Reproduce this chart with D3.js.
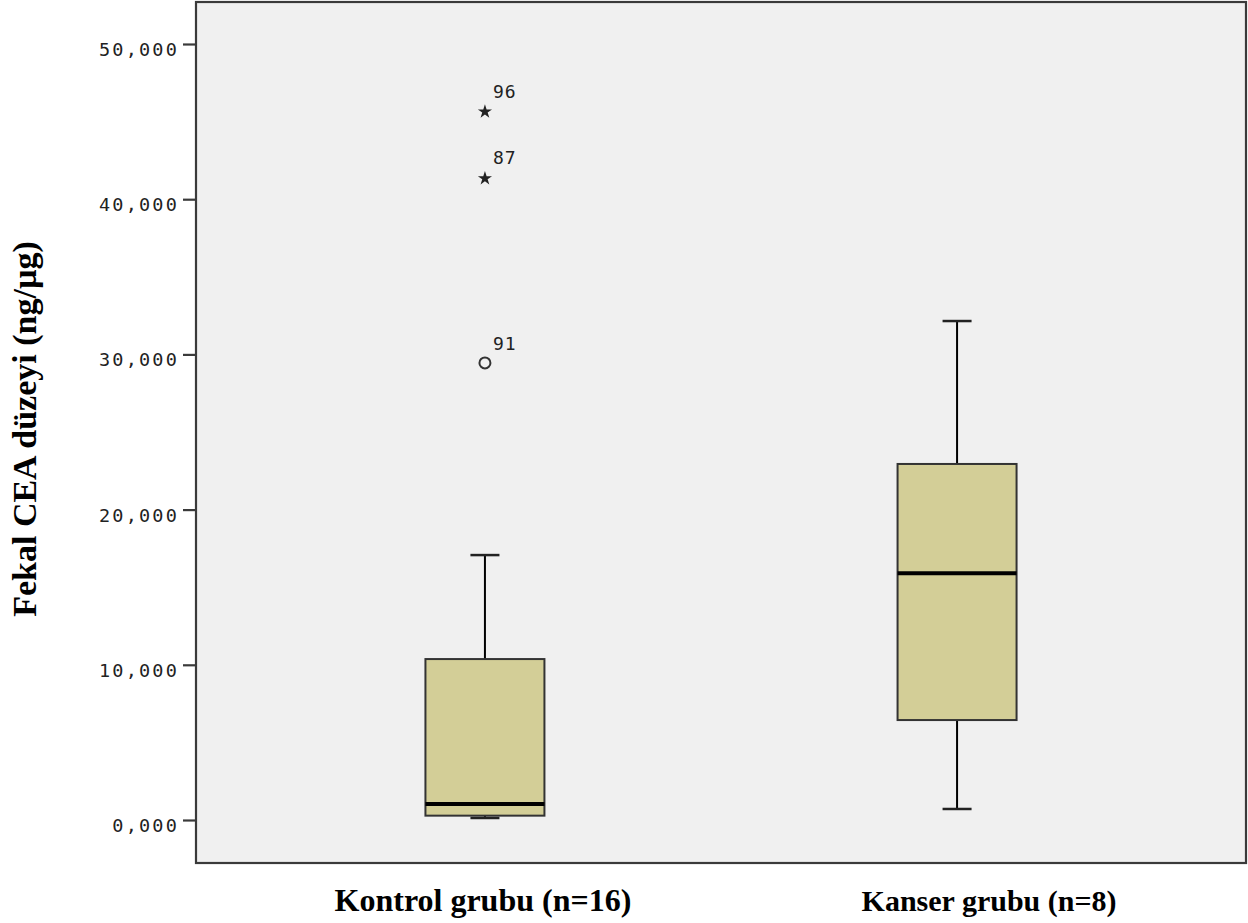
<!DOCTYPE html>
<html>
<head>
<meta charset="utf-8">
<script src="https://cdn.jsdelivr.net/npm/d3@7"></script>
<style>
  html, body { margin: 0; padding: 0; background: #ffffff; }
  svg { display: block; }
</style>
</head>
<body>
<svg id="chart" width="1248" height="923"></svg>
<script>
// ---- data ----
const categories = ["Kontrol grubu (n=16)", "Kanser grubu (n=8)"];
const whiskerLow = [0.13, 0.71];
const q1Values = [0.28, 6.44];
const medians = [1.03, 15.9];
const q3Values = [10.37, 22.94];
const whiskerHigh = [17.07, 32.15];

const outlierCategory = ["Kontrol grubu (n=16)", "Kontrol grubu (n=16)", "Kontrol grubu (n=16)"];
const outlierValues = [45.7, 41.4, 29.45];
const outlierLabels = ["96", "87", "91"];
const outlierKinds = ["extreme", "extreme", "outlier"];

const yTicks = [0, 10, 20, 30, 40, 50];
const yTitle = "Fekal CEA düzeyi  (ng/µg)";

// ---- layout ----
const svg = d3.select("#chart");
const frame = { left: 196, right: 1246, top: 2, bottom: 863 };

const y = d3.scaleLinear().domain([0, 50]).range([820, 44]);
const x = d3.scalePoint().domain(categories).range([frame.left, frame.right]).padding(0.612);
const boxW = 119, capW = 29;

const locale = d3.formatLocale({ decimal: ",", thousands: ".", grouping: [3], currency: ["", ""] });
const fmt = locale.format(".3f");

// plot background + frame
svg.append("rect")
  .attr("x", frame.left).attr("y", frame.top)
  .attr("width", frame.right - frame.left).attr("height", frame.bottom - frame.top)
  .attr("fill", "#f0f0f0").attr("stroke", "#3a3a3a").attr("stroke-width", 2.2);

// y axis
const yAxis = d3.axisLeft(y).tickValues(yTicks).tickSize(13).tickPadding(4).tickFormat(fmt);
const gy = svg.append("g").attr("transform", `translate(${frame.left},0)`).call(yAxis);
gy.select(".domain").remove();
gy.selectAll(".tick line").attr("stroke", "#3a3a3a").attr("stroke-width", 2.2);
gy.selectAll(".tick text")
  .attr("font-family", "DejaVu Sans Mono, monospace")
  .attr("font-size", 18.5)
  .attr("letter-spacing", 2.2)
  .attr("fill", "#222")
  .attr("dy", "0.62em");

// boxes
const data = categories.map((c, i) => ({
  cat: c, lo: whiskerLow[i], q1: q1Values[i], med: medians[i], q3: q3Values[i], hi: whiskerHigh[i]
}));

const g = svg.append("g");
data.forEach(d => {
  const cx = x(d.cat);
  // upper whisker
  g.append("line").attr("x1", cx).attr("x2", cx).attr("y1", y(d.q3)).attr("y2", y(d.hi))
    .attr("stroke", "#000").attr("stroke-width", 2);
  g.append("line").attr("x1", cx - capW / 2).attr("x2", cx + capW / 2).attr("y1", y(d.hi)).attr("y2", y(d.hi))
    .attr("stroke", "#222").attr("stroke-width", 2.5);
  // lower whisker
  g.append("line").attr("x1", cx).attr("x2", cx).attr("y1", y(d.q1)).attr("y2", y(d.lo))
    .attr("stroke", "#000").attr("stroke-width", 2);
  g.append("line").attr("x1", cx - capW / 2).attr("x2", cx + capW / 2).attr("y1", y(d.lo)).attr("y2", y(d.lo))
    .attr("stroke", "#222").attr("stroke-width", 2.5);
  // box
  g.append("rect").attr("x", cx - boxW / 2).attr("y", y(d.q3))
    .attr("width", boxW).attr("height", y(d.q1) - y(d.q3))
    .attr("fill", "#d3ce97").attr("stroke", "#333").attr("stroke-width", 2);
  // median
  g.append("line").attr("x1", cx - boxW / 2).attr("x2", cx + boxW / 2).attr("y1", y(d.med)).attr("y2", y(d.med))
    .attr("stroke", "#000").attr("stroke-width", 4);
});

// outliers
const star = d3.symbol().type(d3.symbolStar).size(62);
outlierValues.forEach((v, i) => {
  const cx = x(outlierCategory[i]);
  const cy = y(v);
  if (outlierKinds[i] === "extreme") {
    g.append("path").attr("d", star).attr("transform", `translate(${cx},${cy + 1})`)
      .attr("fill", "#222");
  } else {
    g.append("circle").attr("cx", cx).attr("cy", cy).attr("r", 5.5)
      .attr("fill", "none").attr("stroke", "#333").attr("stroke-width", 2);
  }
  g.append("text").attr("x", cx + 8).attr("y", cy - 13)
    .attr("font-family", "DejaVu Sans Mono, monospace").attr("font-size", 18)
    .attr("letter-spacing", 1).attr("fill", "#222")
    .text(outlierLabels[i]);
});

// x category labels
svg.append("g").selectAll("text").data(categories).join("text")
  .attr("x", d => x(d) + (d === categories[1] ? 32 : -2))
  .attr("y", 911)
  .attr("text-anchor", "middle")
  .attr("font-family", "Liberation Serif, Times New Roman, serif")
  .attr("font-weight", "bold")
  .attr("font-size", d => d === categories[1] ? 30 : 32)
  .attr("fill", "#000")
  .text(d => d);

// y title
svg.append("text")
  .attr("transform", `translate(36,429) rotate(-90)`)
  .attr("text-anchor", "middle")
  .attr("font-family", "Liberation Serif, Times New Roman, serif")
  .attr("font-weight", "bold")
  .attr("font-size", 34)
  .attr("fill", "#000")
  .text(yTitle);
</script>
</body>
</html>
